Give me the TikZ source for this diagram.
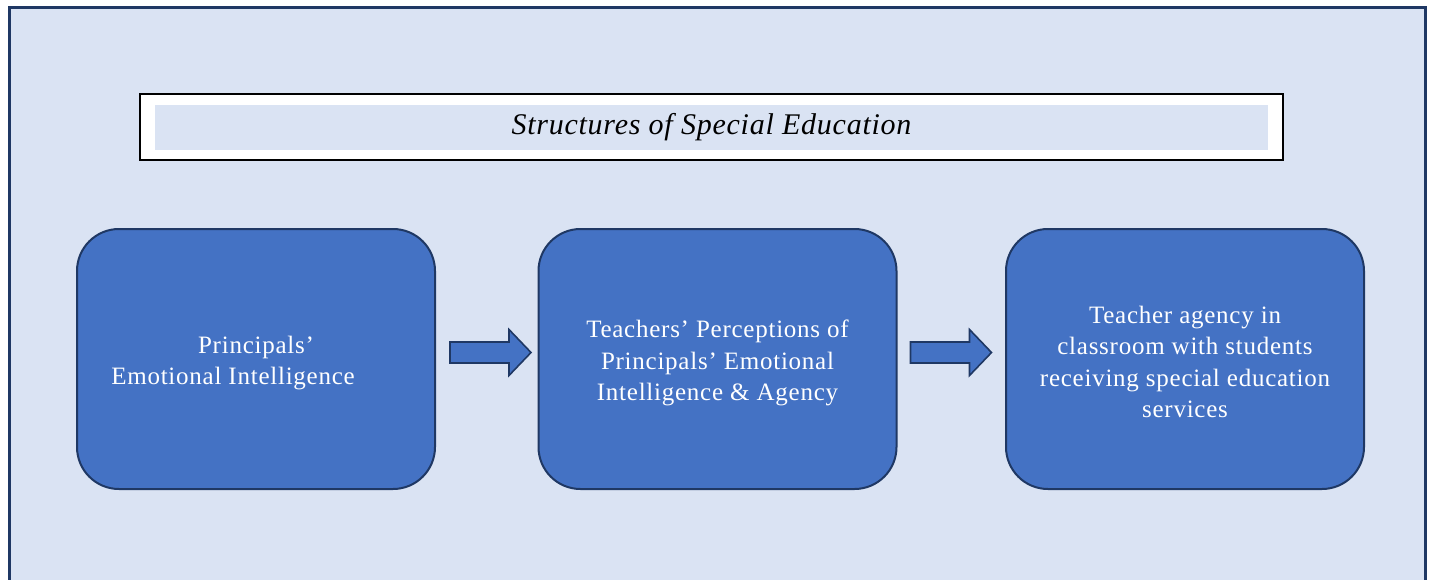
\documentclass[tikz,border=0pt]{standalone}
\usepackage{fontspec}
\setmainfont{Liberation Serif}
\definecolor{panel}{HTML}{DAE3F3}
\definecolor{navy}{HTML}{1F3864}
\definecolor{stepblue}{HTML}{4472C4}
\tikzset{
  stepbox/.style={draw=navy, line width=2pt, fill=stepblue, rounded corners=42pt,
    minimum width=358pt, minimum height=260pt, inner sep=0pt},
  steptext/.style={text=white, align=center, inner sep=0pt,
    font=\fontsize{25}{31.5}\selectfont\addfontfeatures{LetterSpace=3}},
  flowarrow/.style={draw=navy, line width=1.6pt, fill=stepblue, line join=miter}
}
% block arrow whose tail sits at the given coordinate
\newcommand{\blockarrow}[1]{%
  \draw[flowarrow] ([shift={(0,-10.5)}]#1) -- ++(59,0) -- ++(0,-12.5) -- ++(22,23)
    -- ++(-22,23) -- ++(0,-12.5) -- ++(-59,0) -- cycle;}
\begin{document}
\begin{tikzpicture}[x=1pt,y=-1pt]
  \useasboundingbox (0,0) rectangle (1434,579);
  \begin{scope}
    \clip (0,0) rectangle (1434,579);
    % outer panel, open at the bottom edge
    \draw[navy, line width=3pt, fill=panel] (9,7) rectangle (1425,600);
  \end{scope}
  % title banner
  \node[draw=black, line width=1.6pt, fill=white, minimum width=1143pt, minimum height=66pt, inner sep=0pt]
    (titleframe) at (711.5,127) {};
  \node[fill=panel, minimum width=1113pt, minimum height=45pt, inner sep=0pt,
    font=\fontsize{30}{34}\selectfont\itshape\addfontfeatures{LetterSpace=2.5}]
    (title) at (711.5,127.5) {Structures of Special Education};
  % three stages
  \node[stepbox] (s1) at (256,359) {};
  \node[stepbox] (s2) at (717.5,359) {};
  \node[stepbox] (s3) at (1185,359) {};
  \node[steptext] (t1) at ([yshift=-4pt]s1.center) {Principals’\\Emotional Intelligence\hspace*{46pt}};
  \node[steptext] (t2) at ([yshift=-4pt]s2.center) {Teachers’ Perceptions of\\Principals’ Emotional\\Intelligence \& Agency};
  \node[steptext] (t3) at ([yshift=-3pt]s3.center) {Teacher agency in\\classroom with students\\receiving special education\\services};
  % block arrows between stages
  \coordinate (a1) at ([shift={(14,-6.5)}]s1.east);
  \coordinate (a2) at ([shift={(13,-6.5)}]s2.east);
  \blockarrow{a1}
  \blockarrow{a2}
\end{tikzpicture}
\end{document}
